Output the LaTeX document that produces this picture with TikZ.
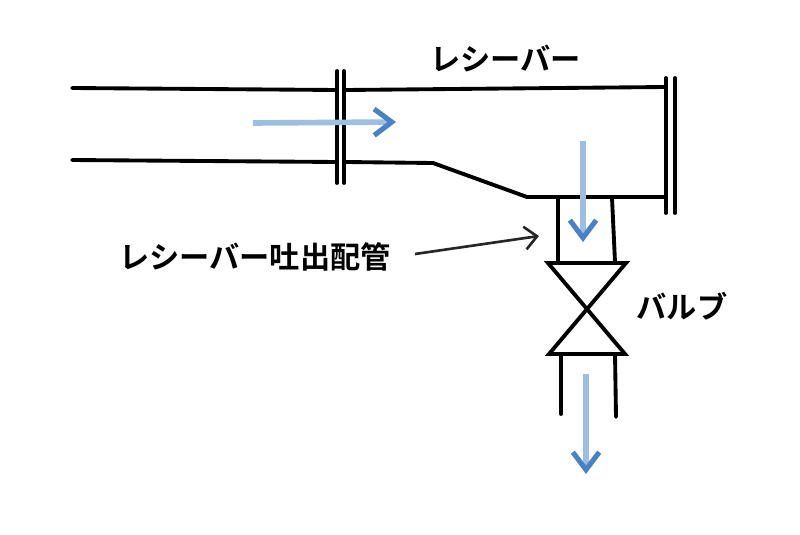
\documentclass[tikz,border=0pt]{standalone}
\usepackage{fontspec}
\setmainfont{Noto Sans CJK JP}[BoldFont={Noto Sans CJK JP Bold}]
\usepackage{color}
\usetikzlibrary{calc,arrows.meta}
\definecolor{flowshaft}{HTML}{9DBDE2}
\definecolor{flowtip}{HTML}{4A80C4}

\begin{document}
\begin{tikzpicture}[x=0.02cm,y=-0.02cm]

\tikzset{pipeline/.style={line width=2.2pt,color=black,line cap=round,line join=miter},
flowarrow/.style={line width=3.2pt,color=flowshaft,-{Straight Barb[color=flowtip,line width=2.9pt,length=10pt,width=15pt]}},
pointer/.style={line width=1.5pt,color=black!85,-{Straight Barb[length=7pt,width=13pt,line width=1.5pt]}},
pipelabel/.style={font=\bfseries\fontsize{17.2pt}{19pt}\selectfont,inner sep=0pt,color=black}}

\useasboundingbox (0,0) rectangle (800,534);

% Pipe corners
\foreach \u/\pos in {tl/{72,88}, tfl/{337,90}, tfr/{346,90}, tr/{665,87},
	bl/{72,160}, bfl/{337,162}, bfr/{346,162}, bend/{433,163}, neck/{527,197}, br/{665,197},
	outla/{558,198}, outlb/{558,262}, outra/{612,198}, outrb/{615,262},
	flaa/{337,71}, flab/{337,183}, flba/{344,71}, flbb/{344,183},
	flca/{666,78}, flcb/{666,213}, flda/{675,78}, fldb/{675,213},
	vtl/{548,263}, vtr/{626,263}, vbl/{549,354}, vbr/{625,354},
	lowla/{561,354}, lowlb/{561,414}, lowra/{615,354}, lowrb/{616,417},
	inA/{253,123}, inB/{396,122}, midA/{583,141}, midB/{583,242}, lowA/{586,374}, lowB/{586,474},
	ptrA/{415,254}, ptrB/{539,236}}
	\coordinate (\u) at (\pos);

% Pipes
\foreach \a/\b in {tl/tfl, tfr/tr, bl/bfl, outla/outlb, outra/outrb, lowla/lowlb, lowra/lowrb,
	flaa/flab, flba/flbb, flca/flcb, flda/fldb}
	\draw[pipeline] (\a) -- (\b);
\draw[pipeline] (bfr) -- (bend) -- (neck) -- (br);

% Valve
\draw[pipeline] (vtl) -- (vtr) -- (vbl) -- (vbr) -- cycle;

% Flow arrows
\foreach \a/\b in {inA/inB, midA/midB, lowA/lowB}
	\draw[flowarrow] (\a) -- (\b);
\draw[pointer] (ptrA) -- (ptrB);

% Labels
\node[pipelabel] (receiver) at (505.5,59) {レシーバー};
\node[pipelabel] (outlet) at (255,257) {レシーバー吐出配管};
\node[pipelabel] (valve) at (682,306) {バルブ};
\end{tikzpicture}
\end{document}
